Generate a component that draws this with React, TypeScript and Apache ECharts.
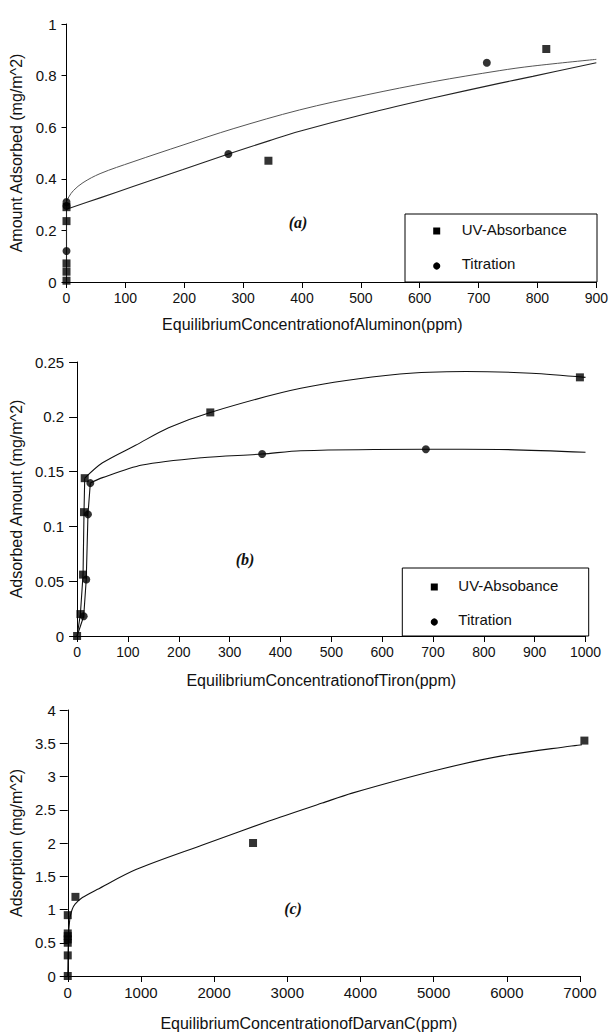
import React, { useEffect, useRef } from "react";
import * as echarts from "echarts";

// ---------- Panel (a): Aluminon ----------
const aUvX = [0, 0, 0, 0, 0, 343, 815];
const aUvY = [0.005, 0.04, 0.072, 0.236, 0.29, 0.47, 0.903];
const aTitX = [0, 0, 0, 275, 714];
const aTitY = [0.12, 0.295, 0.31, 0.496, 0.85];
// fitted curves; first points run up the y axis
const aFit1X = [0, 0, 4, 12, 28, 57, 113, 198, 283, 396, 509, 622, 735, 792, 900];
const aFit1Y = [0, 0.31, 0.33, 0.355, 0.385, 0.42, 0.466, 0.531, 0.594, 0.667, 0.725, 0.776, 0.819, 0.837, 0.863];
const aFit2X = [0, 0, 57, 113, 198, 275, 345, 396, 509, 622, 735, 792, 900];
const aFit2Y = [0, 0.282, 0.326, 0.37, 0.436, 0.496, 0.548, 0.584, 0.652, 0.713, 0.77, 0.797, 0.85];

// ---------- Panel (b): Tiron ----------
const bUvX = [0, 6.5, 11.7, 13.6, 15, 262, 989];
const bUvY = [0, 0.02, 0.056, 0.113, 0.144, 0.204, 0.236];
const bTitX = [13, 18, 21.4, 26, 364, 686];
const bTitY = [0.018, 0.0515, 0.111, 0.1395, 0.166, 0.1704];
const bUvLineX = [0, 6.5, 11.7, 13.6, 15, 50, 115, 180, 262, 440, 635, 765, 894, 1000];
const bUvLineY = [0, 0.02, 0.056, 0.113, 0.144, 0.158, 0.174, 0.19, 0.204, 0.226, 0.239, 0.2414, 0.2398, 0.236];
const bTitLineX = [0, 13, 18, 21.4, 26, 50, 128, 245, 364, 440, 686, 830, 1000];
const bTitLineY = [0, 0.018, 0.0515, 0.111, 0.1395, 0.1445, 0.156, 0.1627, 0.166, 0.1690, 0.1704, 0.1702, 0.1676];
const bUvSteep = 5; // first points joined by straight segments
const bTitSteep = 5;

// ---------- Panel (c): Darvan C ----------
const cX = [0, 0, 0, 0, 0, 0, 0, 105, 2532, 7060];
const cY = [0, 0.31, 0.5, 0.55, 0.6, 0.64, 0.915, 1.19, 2.0, 3.54];
const cLineX = [0, 5, 15, 30, 60, 100, 200, 400, 932, 1841, 2750, 3477, 3886, 5023, 5932, 7045];
const cLineY = [0, 0.4, 0.7, 0.88, 1.0, 1.08, 1.18, 1.3, 1.6, 1.97, 2.33, 2.6, 2.75, 3.09, 3.31, 3.48];
const cSteep = 4;

// ---------- Tick / axis text ----------
const aXName = "EquilibriumConcentrationofAluminon(ppm)";
const bXName = "EquilibriumConcentrationofTiron(ppm)";
const cXName = "EquilibriumConcentrationofDarvanC(ppm)";
const aYName = "Amount Adsorbed (mg/m^2)";
const bYName = "Adsorbed Amount (mg/m^2)";
const cYName = "Adsorption (mg/m^2)";
const aLegend = ["UV-Absorbance", "Titration"];
const bLegend = ["UV-Absobance", "Titration"];
const panelTags = ["(a)", "(b)", "(c)"];

const zip = (xs: number[], ys: number[]) => xs.map((x, i) => [x, ys[i]]);
const FONT = "'Liberation Sans', Arial, sans-serif";
const plain = (v: number) => String(v);

function xAxis(gridIndex: number, max: number, interval: number, name: string, nameGap: number, pad: number, fs: number) {
  return {
    type: "value",
    gridIndex,
    min: 0,
    max,
    interval,
    name,
    nameLocation: "middle",
    nameGap,
    nameTextStyle: { fontSize: 16, color: "#111", fontFamily: FONT, padding: [0, pad, 0, 0] },
    axisLine: { show: true, onZero: false, lineStyle: { color: "#000", width: 1 } },
    axisTick: { show: true, inside: false, length: 6, lineStyle: { color: "#000" } },
    axisLabel: { fontSize: fs, color: "#111", margin: 9, fontFamily: FONT, formatter: plain },
    splitLine: { show: false },
  };
}

function yAxis(gridIndex: number, max: number, interval: number, name: string, nameGap: number, tickLen: number, margin: number) {
  return {
    type: "value",
    gridIndex,
    min: 0,
    max,
    interval,
    name,
    nameLocation: "middle",
    nameGap,
    nameTextStyle: { fontSize: 16, color: "#111", fontFamily: FONT },
    axisLine: { show: true, onZero: false, lineStyle: { color: "#000", width: 1 } },
    axisTick: { show: true, inside: false, length: tickLen, lineStyle: { color: "#000" } },
    axisLabel: { fontSize: 15, color: "#111", margin, fontFamily: FONT, formatter: plain },
    splitLine: { show: false },
  };
}

function lineSeries(idx: number, data: number[][], color: string, width: number, smooth: number | boolean) {
  return {
    type: "line",
    xAxisIndex: idx,
    yAxisIndex: idx,
    data,
    showSymbol: false,
    symbol: "none",
    smooth,
    lineStyle: { color, width },
    z: 2,
  };
}

// straight part for the steep start, smooth part for the rest (sharing the junction point)
function splitLine(idx: number, xs: number[], ys: number[], k: number, color: string, width: number, s: number) {
  const pts = zip(xs, ys);
  return [
    lineSeries(idx, pts.slice(0, k), color, width, false),
    lineSeries(idx, pts.slice(k - 1), color, width, s),
  ];
}

function scatter(idx: number, name: string, data: number[][], symbol: string, size: number) {
  return {
    type: "scatter",
    name,
    xAxisIndex: idx,
    yAxisIndex: idx,
    data,
    symbol,
    symbolSize: size,
    itemStyle: { color: "#000" },
    clip: false,
    z: 3,
  };
}

function legendBox(x: number, y: number, w: number, h: number, labels: string[], mx: number, tx: number, y1: number, y2: number) {
  return [
    { type: "rect", shape: { x, y, width: w, height: h }, style: { fill: "#fff", stroke: "#000", lineWidth: 1 }, z: 10 },
    { type: "rect", shape: { x: mx - 3.5, y: y1 - 3.5, width: 7, height: 7 }, style: { fill: "#000" }, z: 11 },
    { type: "circle", shape: { cx: mx, cy: y2, r: 3.6 }, style: { fill: "#000" }, z: 11 },
    { type: "text", x: tx, y: y1 - 2, style: { text: labels[0], fontSize: 15, fontFamily: FONT, fill: "#111", verticalAlign: "middle" }, z: 11 },
    { type: "text", x: tx, y: y2 - 3, style: { text: labels[1], fontSize: 15, fontFamily: FONT, fill: "#111", verticalAlign: "middle" }, z: 11 },
  ];
}

function tag(text: string, x: number, y: number) {
  return {
    type: "text",
    x,
    y,
    style: {
      text,
      fontSize: 16,
      fontStyle: "italic",
      fontWeight: "bold",
      fontFamily: "'Liberation Serif', 'Times New Roman', serif",
      fill: "#111",
      align: "center",
      verticalAlign: "middle",
    },
    z: 11,
  };
}

export default function App() {
  const ref = useRef<HTMLDivElement>(null);
  useEffect(() => {
    if (!ref.current) return;
    const chart = echarts.init(ref.current, undefined, { renderer: "svg" });
    chart.setOption({
      animation: false,
      backgroundColor: "#fff",
      textStyle: { fontFamily: FONT },
      grid: [
        { left: 66.5, top: 24, right: 14, height: 258 },
        { left: 74.5, top: 362, right: 25.5, height: 274 },
        { left: 66, top: 710, right: 31, height: 268 },
      ],
      xAxis: [
        xAxis(0, 900, 100, aXName, 34, 38, 14),
        xAxis(1, 1000, 100, bXName, 36, 20, 14),
        xAxis(2, 7000, 1000, cXName, 39, 30, 15),
      ],
      yAxis: [
        yAxis(0, 1, 0.2, aYName, 33, 5, 10),
        yAxis(1, 0.25, 0.05, bYName, 44, 8, 13),
        yAxis(2, 4, 0.5, cYName, 36, 8, 12),
      ],
      series: [
        ...splitLine(0, aFit1X, aFit1Y, 2, "#555", 1, 0.35),
        ...splitLine(0, aFit2X, aFit2Y, 2, "#222", 1.1, 0.35),
        scatter(0, aLegend[0], zip(aUvX, aUvY), "rect", 8),
        scatter(0, aLegend[1], zip(aTitX, aTitY), "circle", 8),
        ...splitLine(1, bUvLineX, bUvLineY, bUvSteep, "#111", 1.1, 0.3),
        ...splitLine(1, bTitLineX, bTitLineY, bTitSteep, "#111", 1.1, 0.3),
        scatter(1, bLegend[0], zip(bUvX, bUvY), "rect", 8),
        scatter(1, bLegend[1], zip(bTitX, bTitY), "circle", 8),
        ...splitLine(2, cLineX, cLineY, cSteep, "#111", 1.1, 0.3),
        scatter(2, "Darvan C", zip(cX, cY), "rect", 8),
      ],
      graphic: [
        ...legendBox(405, 214, 192, 68, aLegend, 436.7, 461.7, 231, 266),
        ...legendBox(402.3, 568, 186.4, 68, bLegend, 434.3, 458.3, 587, 622),
        tag(panelTags[0], 298, 222),
        tag(panelTags[1], 245, 559),
        tag(panelTags[2], 293, 908),
      ],
    });
    return () => chart.dispose();
  }, []);
  return <div ref={ref} style={{ position: "fixed", left: 0, top: 0, width: 611, height: 1032, background: "#fff" }} />;
}
